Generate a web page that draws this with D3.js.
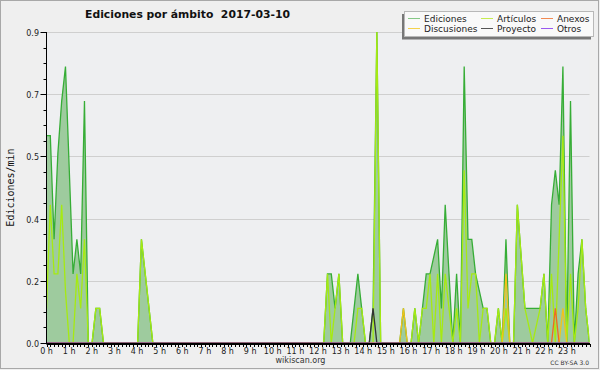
<!DOCTYPE html>
<html>
<head>
<meta charset="utf-8">
<script src="https://d3js.org/d3.v7.min.js"></script>
<style>
  body { margin: 0; background: #fff; }
  text { font-family: "DejaVu Sans", sans-serif; }
</style>
</head>
<body>
<div id="vis"></div>
<script>
  // edits per minute, one value per 10 minute slot (00:00 ... 23:50), 12 slots per row
  const ediciones = [
    0.6,0.6,0.3,0.55,0.7,0.8,0.5,0.2,0.3,0.2,0.7,0,
    0,0.1,0.1,0,0,0,0,0,0,0,0,0,
    0,0.3,0.2,0.1,0,0,0,0,0,0,0,0,
    0,0,0,0,0,0,0,0,0,0,0,0,
    0,0,0,0,0,0,0,0,0,0,0,0,
    0,0,0,0,0,0,0,0,0,0,0,0,
    0,0,0.2,0.2,0.1,0.2,0,0,0,0.1,0.2,0.1,
    0,0,0.1,0.9,0,0,0,0,0,0,0.1,0,
    0,0.1,0,0.1,0.2,0.2,0.25,0.3,0.1,0.4,0.2,0,
    0.2,0,0.8,0.3,0.3,0.2,0.15,0.1,0.1,0,0,0.1,
    0,0.3,0,0,0.4,0.25,0.1,0.1,0.1,0.1,0.1,0.2,
    0,0.4,0.5,0.4,0.8,0,0.7,0,0.2,0.3,0.1,0
  ]
  const articulos = [
    0.1,0.4,0.2,0.2,0.4,0.15,0,0,0.2,0.1,0.3,0,
    0,0.1,0.1,0,0,0,0,0,0,0,0,0,
    0,0.3,0.2,0.1,0,0,0,0,0,0,0,0,
    0,0,0,0,0,0,0,0,0,0,0,0,
    0,0,0,0,0,0,0,0,0,0,0,0,
    0,0,0,0,0,0,0,0,0,0,0,0,
    0,0,0.2,0,0.1,0.2,0,0,0,0,0.1,0.1,
    0,0,0,0.9,0,0,0,0,0,0,0,0,
    0,0.1,0,0.1,0.1,0.2,0,0.2,0,0.2,0.1,0,
    0.1,0,0.5,0.1,0.2,0.2,0,0.1,0.1,0,0,0.1,
    0,0.1,0,0,0.4,0.25,0.1,0.05,0,0.05,0.1,0.2,
    0,0.2,0,0.3,0.6,0,0.2,0,0.1,0.3,0.1,0
  ]
  const discusiones = [
    0,0,0,0,0,0,0,0,0,0,0,0,
    0,0,0,0,0,0,0,0,0,0,0,0,
    0,0,0,0,0,0,0,0,0,0,0,0,
    0,0,0,0,0,0,0,0,0,0,0,0,
    0,0,0,0,0,0,0,0,0,0,0,0,
    0,0,0,0,0,0,0,0,0,0,0,0,
    0,0,0,0,0,0,0,0,0,0,0,0,
    0,0,0,0,0,0,0,0,0,0,0.1,0,
    0,0,0,0,0,0,0,0,0,0,0,0,
    0,0,0,0,0,0,0,0,0,0,0,0,
    0,0.2,0,0,0,0,0,0,0,0,0,0,
    0,0,0,0,0.1,0,0,0,0,0,0,0
  ]
  const anexos = [
    0,0,0,0,0,0,0,0,0,0,0,0,
    0,0,0,0,0,0,0,0,0,0,0,0,
    0,0,0,0,0,0,0,0,0,0,0,0,
    0,0,0,0,0,0,0,0,0,0,0,0,
    0,0,0,0,0,0,0,0,0,0,0,0,
    0,0,0,0,0,0,0,0,0,0,0,0,
    0,0,0,0,0,0,0,0,0,0,0,0,
    0,0,0,0,0,0,0,0,0,0,0,0,
    0,0,0,0,0,0,0,0,0,0,0,0,
    0,0,0,0,0,0,0,0,0,0,0,0,
    0,0,0,0,0,0,0,0,0,0,0,0,
    0,0,0.1,0,0,0,0,0,0,0,0,0
  ]
  const proyecto = [
    0,0,0,0,0,0,0,0,0,0,0,0,
    0,0,0,0,0,0,0,0,0,0,0,0,
    0,0,0,0,0,0,0,0,0,0,0,0,
    0,0,0,0,0,0,0,0,0,0,0,0,
    0,0,0,0,0,0,0,0,0,0,0,0,
    0,0,0,0,0,0,0,0,0,0,0,0,
    0,0,0,0,0,0,0,0,0,0,0,0,
    0,0,0.1,0,0,0,0,0,0,0,0,0,
    0,0,0,0,0,0,0,0,0,0,0,0,
    0,0,0,0,0,0,0,0,0,0,0,0,
    0,0,0,0,0,0,0,0,0,0,0,0,
    0,0,0,0,0,0,0,0,0,0,0,0
  ]
  const otros = [
    0,0,0,0,0,0,0,0,0,0,0,0,
    0,0,0,0,0,0,0,0,0,0,0,0,
    0,0,0,0,0,0,0,0,0,0,0,0,
    0,0,0,0,0,0,0,0,0,0,0,0,
    0,0,0,0,0,0,0,0,0,0,0,0,
    0,0,0,0,0,0,0,0,0,0,0,0,
    0,0,0,0,0,0,0,0,0,0,0,0,
    0,0,0,0,0,0,0,0,0,0,0,0,
    0,0,0,0,0,0,0,0,0,0,0,0,
    0,0,0,0,0,0,0,0,0,0,0,0,
    0,0,0,0,0,0,0,0,0,0,0,0,
    0,0,0,0,0,0,0,0,0,0,0,0
  ]
  const hourLabels = d3.range(0, 24).map(h => h + ' h')
  const yTicks = [0, 0.18, 0.36, 0.54, 0.72, 0.9]

  const series = [
    {name: 'Artículos', values: articulos, color: '#a6ea12', legend: '#c6ec50'},
    {name: 'Discusiones', values: discusiones, color: '#f2c21a', legend: '#f4d24c'},
    {name: 'Anexos', values: anexos, color: '#f06a22', legend: '#f28a52'},
    {name: 'Proyecto', values: proyecto, color: '#333333', legend: '#555555'},
    {name: 'Otros', values: otros, color: '#8a3ee6', legend: '#9a5af0'}
  ]

  const W = 600, H = 370
  const plotL = 46.5, plotR = 589.5, plotT = 32, plotB = 343

  const svg = d3.select('#vis')
    .append('svg')
    .attr('width', W)
    .attr('height', H)

  // background + frame
  svg.append('rect').attr('width', W).attr('height', H).attr('fill', '#efefef')
  svg.append('rect').attr('x', plotL).attr('y', plotT).attr('width', plotR - plotL).attr('height', plotB - plotT)
    .attr('fill', '#eeeff1')
  svg.append('rect').attr('x', 0.5).attr('y', 0.5).attr('width', W - 2).attr('height', H - 2)
    .attr('fill', 'none').attr('stroke', '#a8a8a8')

  const x = d3.scaleLinear().domain([0, ediciones.length - 1]).range([plotL, plotR])
  const xHour = d3.scaleLinear().domain([0, 24]).range([plotL, plotR])
  const y = d3.scaleLinear().domain([0, 0.9]).range([plotB, plotT])

  // grid
  svg.selectAll('.grid')
    .data(yTicks.slice(1))
    .enter()
    .append('line')
    .attr('x1', plotL).attr('x2', plotR)
    .attr('y1', d => Math.round(y(d)) + 0.5)
    .attr('y2', d => Math.round(y(d)) + 0.5)
    .attr('stroke', '#cfcfcf')

  svg.append('clipPath').attr('id', 'clip')
    .append('rect').attr('x', plotL).attr('y', 0).attr('width', plotR - plotL).attr('height', plotB - 0.6)

  const plot = svg.append('g').attr('clip-path', 'url(#clip)')

  const area = d3.area()
    .x((d, i) => x(i))
    .y0(y(0))
    .y1(d => y(d))
  const line = d3.line()
    .x((d, i) => x(i))
    .y(d => y(d))

  plot.append('path')
    .attr('d', area(ediciones))
    .attr('fill', '#9ecb9e')

  plot.append('path')
    .attr('d', line(ediciones))
    .attr('fill', 'none')
    .attr('stroke', '#36ad36')
    .attr('stroke-width', 1.3)

  series.forEach(s => {
    plot.append('path')
      .attr('d', line(s.values))
      .attr('fill', 'none')
      .attr('stroke', s.color)
      .attr('stroke-width', 1.3)
  })

  // y axis
  const yAxis = svg.append('g').attr('font-size', 8)
  yAxis.append('line').attr('x1', plotL).attr('x2', plotL).attr('y1', plotT).attr('y2', plotB + 1)
    .attr('stroke', '#000')
  d3.range(0, 0.9 + 1e-9, 0.045).forEach(v => {
    const yy = Math.round(y(v)) + 0.5
    yAxis.append('line').attr('x1', plotL - 3).attr('x2', plotL).attr('y1', yy).attr('y2', yy).attr('stroke', '#000')
  })
  yTicks.forEach(v => {
    const yy = Math.round(y(v)) + 0.5
    yAxis.append('line').attr('x1', plotL - 6).attr('x2', plotL).attr('y1', yy).attr('y2', yy).attr('stroke', '#000')
    yAxis.append('text').attr('x', plotL - 7.5).attr('y', yy + 3)
      .attr('text-anchor', 'end').attr('fill', '#222').text(d3.format('.1f')(v))
  })

  // x axis
  const xAxis = svg.append('g').attr('font-size', 8)
  xAxis.append('line').attr('x1', plotL).attr('x2', plotR + 0.5).attr('y1', plotB + 1).attr('y2', plotB + 1)
    .attr('stroke', '#000').attr('stroke-width', 2)
  d3.range(0, 24 * 6 + 1).forEach(t => {
    const xx = Math.round(xHour(t / 6)) + 0.5
    xAxis.append('line').attr('x1', xx).attr('x2', xx).attr('y1', plotB + 1).attr('y2', plotB + 4)
      .attr('stroke', '#000')
  })
  hourLabels.forEach((lab, h) => {
    xAxis.append('text').attr('x', xHour(h)).attr('y', 354)
      .attr('text-anchor', 'middle').attr('fill', '#222').text(lab)
  })

  // titles
  svg.append('text').attr('x', 187.5).attr('y', 18)
    .attr('text-anchor', 'middle').attr('font-size', 10.8).attr('font-weight', 'bold')
    .attr('fill', '#111').attr('xml:space', 'preserve')
    .text('Ediciones por ámbito  2017-03-10')

  svg.append('text')
    .attr('transform', 'translate(13.5,187.5) rotate(-90)')
    .attr('text-anchor', 'middle')
    .style('font-family', '"DejaVu Sans Mono", monospace')
    .attr('font-size', 10).attr('fill', '#111')
    .text('Ediciones/min')

  svg.append('text').attr('x', 300.5).attr('y', 363)
    .attr('text-anchor', 'middle').attr('font-size', 8).attr('fill', '#333')
    .text('wikiscan.org')
  svg.append('text').attr('x', 589).attr('y', 365)
    .attr('text-anchor', 'end').attr('font-size', 6).attr('fill', '#333')
    .text('CC BY-SA 3.0')

  // legend
  const legendItems = [
    {name: 'Ediciones', legend: '#86c886'},
    series[0], series[2], series[1], series[3], series[4]
  ]
  const lg = svg.append('g')
  lg.append('rect').attr('x', 402).attr('y', 14).attr('width', 189).attr('height', 25.5).attr('fill', '#777')
  lg.append('rect').attr('x', 404.5).attr('y', 11.5).attr('width', 189).attr('height', 25)
    .attr('fill', '#f9f9f9').attr('stroke', '#b8b8b8')
  const colX = [408, 481, 541]
  const rowY = [18.5, 28.5]
  legendItems.forEach((d, i) => {
    const cx = colX[i % 3], cy = rowY[Math.floor(i / 3)]
    lg.append('line').attr('x1', cx).attr('x2', cx + 12).attr('y1', cy).attr('y2', cy)
      .attr('stroke', d.legend).attr('stroke-width', 1)
    lg.append('text').attr('x', cx + 16).attr('y', cy + 3.5)
      .attr('font-size', 9).attr('fill', '#222').text(d.name)
  })
</script>
</body>
</html>
